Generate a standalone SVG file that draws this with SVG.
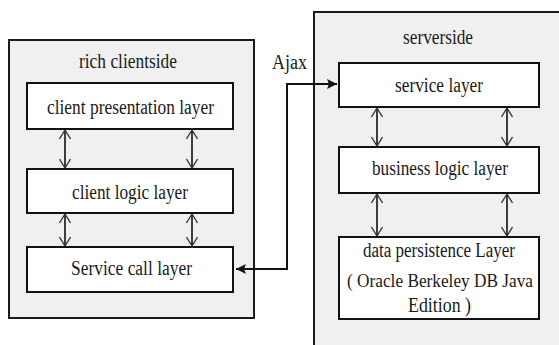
<svg xmlns="http://www.w3.org/2000/svg" width="559" height="345" viewBox="0 0 559 345">
<style>
.cont{fill:#f0f0f0;stroke:#1a1a1a;stroke-width:2}
.box{fill:#fff;stroke:#111;stroke-width:2}
text{font-family:"Liberation Serif",serif;font-size:20px;fill:#1a1a1a;text-anchor:middle}
.sm{font-size:18px}
.v{stroke:#111;stroke-width:1.6;fill:none;marker-start:url(#open);marker-end:url(#open)}
.ajax{stroke:#111;stroke-width:2;fill:none;marker-start:url(#solid);marker-end:url(#solid)}
</style>
<defs>
<marker id="open" viewBox="0 0 10 12" refX="10" refY="6" markerWidth="10" markerHeight="12" markerUnits="userSpaceOnUse" orient="auto-start-reverse">
<path d="M1,0.5 L10,6 L1,11.5" fill="none" stroke="#333" stroke-width="1.3"/>
</marker>
<marker id="solid" viewBox="0 0 10 10" refX="10" refY="5" markerWidth="10" markerHeight="10" markerUnits="userSpaceOnUse" orient="auto-start-reverse">
<path d="M0,0 L10,5 L0,10 L2,5 Z" fill="#111"/>
</marker>
</defs>
<g id="clientside">
<rect class="cont" x="9" y="40" width="245" height="278"/>
<text x="128" y="68" textLength="98" lengthAdjust="spacingAndGlyphs">rich clientside</text>
</g>
<g id="serverside">
<rect class="cont" x="314" y="12" width="260" height="350"/>
<text x="438" y="44" textLength="70" lengthAdjust="spacingAndGlyphs">serverside</text>
</g>
<g id="client-presentation-layer">
<rect class="box" x="27" y="83" width="206" height="46"/>
<text x="130.5" y="114" textLength="167" lengthAdjust="spacingAndGlyphs">client presentation layer</text>
</g>
<g id="client-logic-layer">
<rect class="box" x="27" y="169" width="206" height="44"/>
<text x="130" y="199" textLength="116" lengthAdjust="spacingAndGlyphs">client logic layer</text>
</g>
<g id="service-call-layer">
<rect class="box" x="27" y="247" width="206" height="45"/>
<text x="131.5" y="275" textLength="121" lengthAdjust="spacingAndGlyphs">Service call layer</text>
</g>
<g id="service-layer">
<rect class="box" x="339" y="63" width="200" height="44"/>
<text x="439" y="92" textLength="88" lengthAdjust="spacingAndGlyphs">service layer</text>
</g>
<g id="business-logic-layer">
<rect class="box" x="339" y="147" width="200" height="46"/>
<text x="440" y="175" textLength="136" lengthAdjust="spacingAndGlyphs">business logic layer</text>
</g>
<g id="data-persistence-layer">
<rect class="box" x="339" y="237" width="200" height="82"/>
<text x="439" y="257" textLength="152" lengthAdjust="spacingAndGlyphs">data persistence Layer</text>
<text class="sm" x="440" y="287" textLength="186" lengthAdjust="spacingAndGlyphs">( Oracle Berkeley DB Java</text>
<text x="439.5" y="312" textLength="63" lengthAdjust="spacingAndGlyphs">Edition )</text>
</g>
<g id="connectors">
<line class="v" x1="65" y1="130" x2="65" y2="168"/>
<line class="v" x1="192" y1="130" x2="192" y2="168"/>
<line class="v" x1="65" y1="214" x2="65" y2="246"/>
<line class="v" x1="192" y1="214" x2="192" y2="246"/>
<line class="v" x1="377" y1="108" x2="377" y2="146"/>
<line class="v" x1="507" y1="108" x2="507" y2="146"/>
<line class="v" x1="377" y1="194" x2="377" y2="236"/>
<line class="v" x1="507" y1="194" x2="507" y2="236"/>
<polyline class="ajax" points="236,269 287,269 287,84 337,84"/>
<text x="289.5" y="69" textLength="35" lengthAdjust="spacingAndGlyphs">Ajax</text>
</g>
</svg>
